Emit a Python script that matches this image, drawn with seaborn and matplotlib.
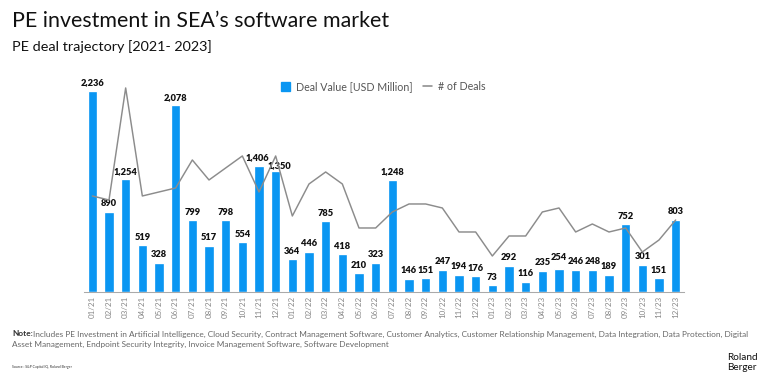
import pandas as pd
import matplotlib.pyplot as plt
import seaborn as sns
from matplotlib.patches import Patch
from matplotlib.lines import Line2D

# Data
months = ["01/21", "02/21", "03/21", "04/21", "05/21", "06/21", "07/21", "08/21", "09/21", "10/21", "11/21", "12/21",
          "01/22", "02/22", "03/22", "04/22", "05/22", "06/22", "07/22", "08/22", "09/22", "10/22", "11/22", "12/22",
          "01/23", "02/23", "03/23", "04/23", "05/23", "06/23", "07/23", "08/23", "09/23", "10/23", "11/23", "12/23"]
deal_value = [2236, 890, 1254, 519, 328, 2078, 799, 517, 798, 554, 1406, 1350,
              364, 446, 785, 418, 210, 323, 1248, 146, 151, 247, 194, 176,
              73, 292, 116, 235, 254, 246, 248, 189, 752, 301, 151, 803]
num_deals = [24, 23, 51, 24, 25, 26, 33, 28, 31, 34, 25, 34,
             19, 27, 30, 27, 16, 16, 20, 22, 22, 21, 15, 15,
             9, 14, 14, 20, 21, 15, 17, 15, 16, 10, 13, 18]

df = pd.DataFrame({"Month": months, "Deal Value": deal_value, "Deals": num_deals})

BLUE = "#0a96f2"
GREY = "#8c8c8c"

sns.set_style("white")
plt.rcParams["font.family"] = ["Lato", "DejaVu Sans"]

fig = plt.figure(figsize=(8, 4), dpi=96)
ax = fig.add_axes([84 / 768, 92 / 384, 600 / 768, 212 / 384])

sns.barplot(x="Month", y="Deal Value", data=df, color=BLUE, width=0.55,
            saturation=1, ax=ax)
ax.set_xlim(-0.5, 35.5)
ymax = 2358
ax.set_ylim(0, ymax)

ax2 = ax.twinx()
sns.lineplot(x=range(len(months)), y=num_deals, color=GREY, linewidth=1.1, ax=ax2)
ax2.set_ylim(0, ymax / 44.5)
ax2.axis("off")

# value labels (a few nudged like in the original)
nudge = {"11/21": (-0.12, 40), "12/21": (0.25, 5), "05/23": (0, 80)}
for i, v in enumerate(deal_value):
    dx, dy = nudge.get(months[i], (0, 40))
    ax.text(i + dx, v + dy, f"{v:,}", ha="center", va="bottom",
            fontsize=6.9, fontweight="heavy", color="#111111")

for s in ["top", "right", "left"]:
    ax.spines[s].set_visible(False)
ax.spines["bottom"].set_color("#aaaaaa")
ax.set_yticks([])
ax.set_xlabel("")
ax.set_ylabel("")
ax.tick_params(axis="x", labelrotation=90, labelsize=6, colors="#888888", length=0, pad=3)

# legend
handles = [Patch(color=BLUE, label="Deal Value [USD Million]"),
           Line2D([0], [0], color=GREY, lw=1.2, label="# of Deals")]
fig.legend(handles=handles, loc="center", bbox_to_anchor=(383 / 768, 1 - 87 / 384), ncol=2,
           frameon=False, fontsize=8, handlelength=0.9, handleheight=0.9,
           columnspacing=1.0, handletextpad=0.5, labelcolor="#555555")

# titles
fig.text(12 / 768, 1 - 21 / 384, "PE investment in SEA\u2019s software market",
         fontsize=16, color="#111111", va="center", ha="left")
fig.text(12 / 768, 1 - 47 / 384, "PE deal trajectory [2021- 2023]",
         fontsize=10.8, color="#111111", va="center", ha="left")

# note and source
fig.text(12 / 768, 1 - 334 / 384, "Note:", fontsize=6.2, fontweight="bold", color="#333333", va="center")
fig.text(33 / 768, 1 - 334 / 384,
         "Includes PE Investment in Artificial Intelligence, Cloud Security, Contract Management Software, "
         "Customer Analytics, Customer Relationship Management, Data Integration, Data Protection, Digital",
         fontsize=6.2, color="#666666", va="center")
fig.text(12 / 768, 1 - 344 / 384,
         "Asset Management, Endpoint Security Integrity, Invoice Management Software, Software Development",
         fontsize=6.2, color="#666666", va="center")
fig.text(12 / 768, 1 - 367 / 384, "Source : S&P Capital IQ, Roland Berger",
         fontsize=2.6, color="#333333", va="center")
fig.text(727 / 768, 1 - 357 / 384, "Roland", fontsize=7.5, color="#111111", va="center")
fig.text(727 / 768, 1 - 368 / 384, "Berger", fontsize=7.5, color="#111111", va="center")

plt.savefig("out.png", dpi=96)
